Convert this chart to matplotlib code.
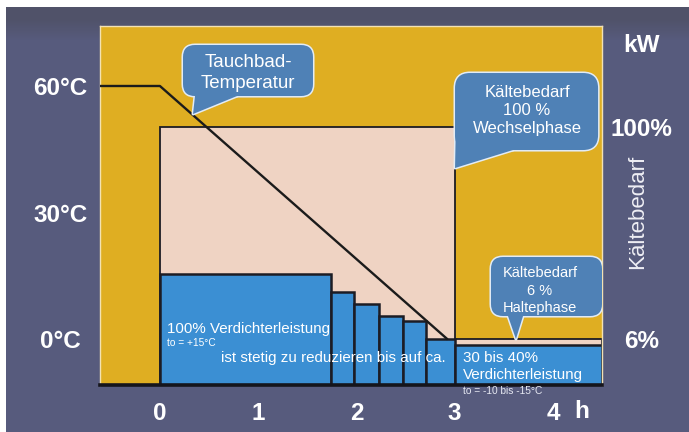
import matplotlib
matplotlib.use("Agg")
import matplotlib.pyplot as plt
import numpy as np
from matplotlib.patches import FancyBboxPatch, Polygon

plt.rcParams['font.family'] = ['Liberation Sans', 'DejaVu Sans']

# --- data -------------------------------------------------------------
hour_ticks = [0, 1, 2, 3, 4]
temp_ticks = [0, 30, 60]
temp_tick_labels = ['0°C', '30°C', '60°C']

# immersion bath temperature over time (h, °C)
bath_time = [-0.61, 0.0, 2.93]
bath_temp = [60, 60, 0]

# cooling demand phases (h) and their drawn levels
change_phase = (0.0, 3.0)     # Wechselphase
hold_phase = (3.0, 4.5)       # Haltephase
demand_levels = [100, 17.7]
demand_labels = ['100%', '6%']

# stepwise reduced compressor output during the change phase
step_edges = [0.0, 1.74, 1.98, 2.23, 2.47, 2.705, 3.0]
step_power = [43, 36, 31.5, 26.7, 24.8, 17.7]
hold_power = 15.5

# --- styling ----------------------------------------------------------
GOLD = '#dfae22'
PINK = '#efd3c3'
BLUE = '#3b8fd3'
BUBBLE = '#4f81b6'
BUBBLE_EDGE = '#e3ecf5'
BG = np.array([87, 91, 125]) / 255
BG_TOP = np.array([80, 82, 105]) / 255
DARK = '#1c1c24'
WHITE = '#ffffff'

W, H = 689, 432
fig = plt.figure(figsize=(W / 100, H / 100), dpi=100, facecolor='white')

# slide background with a darker band at the top
bg = fig.add_axes([6 / W, 0, (W - 6) / W, (H - 7) / H])
rows = np.arange(7, H)
t = np.clip((rows - 18) / 22.0, 0, 1)[:, None]
grad = BG_TOP * (1 - t) + BG * t
bg.imshow(grad[:, None, :], aspect='auto', extent=(6, W, H, 7))
bg.set_xlim(6, W)
bg.set_ylim(H, 7)
bg.axis('off')

# main panel
x_lim = (-0.61, 4.5)
y_lim = (0, 139.1)
ax = fig.add_axes([100 / W, 1 - 385 / H, 502 / W, 359 / H])
ax.set_xlim(*x_lim)
ax.set_ylim(*y_lim)
ax.set_facecolor(GOLD)
for side in ('left', 'top', 'right'):
    ax.spines[side].set_color('#f3e2b3')
    ax.spines[side].set_linewidth(1.0)
ax.spines['bottom'].set_visible(False)

sx = 502 / (x_lim[1] - x_lim[0])
sy = 359 / (y_lim[1] - y_lim[0])

# 100 % demand block during the change phase and 6 % during holding
ax.bar(change_phase[0], demand_levels[0], width=change_phase[1] - change_phase[0],
       align='edge', color=PINK, edgecolor=DARK, linewidth=1.3, zorder=1)
ax.bar(hold_phase[0], demand_levels[1], width=hold_phase[1] - hold_phase[0],
       align='edge', color=PINK, edgecolor=DARK, linewidth=1.3, zorder=1)

# compressor output
ax.bar(step_edges[:-1], step_power, width=np.diff(step_edges), align='edge',
       color=BLUE, edgecolor=DARK, linewidth=1.8, zorder=2)
ax.bar(hold_phase[0], hold_power, width=hold_phase[1] - hold_phase[0],
       align='edge', color=BLUE, edgecolor=DARK, linewidth=1.8, zorder=2)

ax.axhline(0, color='#15151c', linewidth=2.6, zorder=6, clip_on=False)

# temperature axis on the left
ax2 = ax.twinx()
ax2.set_ylim(-10.77, 74.2)
ax2.yaxis.tick_left()
ax2.set_yticks(temp_ticks, temp_tick_labels)
ax2.tick_params(axis='y', length=0, pad=28.5, labelcolor=WHITE, labelsize=17.5)
for lab in ax2.get_yticklabels():
    lab.set_ha('center')
    lab.set_fontweight('bold')
for s in ax2.spines.values():
    s.set_visible(False)
ax2.set_xticks([])

ax.plot(bath_time, bath_temp, color='#1b1b1b', linewidth=1.7,
        transform=ax2.transData, zorder=3, solid_capstyle='butt')

# hour axis
ax.set_xticks(hour_ticks, [str(h) for h in hour_ticks])
ax.tick_params(axis='x', length=0, pad=12.5, labelcolor=WHITE, labelsize=17.5)
for lab in ax.get_xticklabels():
    lab.set_fontweight('bold')
ax.text(4.29, -(412 - 385) / 359, 'h', transform=ax.get_xaxis_transform(),
        ha='center', va='center', color=WHITE, fontsize=17.5, fontweight='bold')

# demand axis on the right
ax.yaxis.tick_right()
ax.set_yticks(demand_levels, demand_labels)
ax.tick_params(axis='y', length=0, pad=28.5, labelcolor=WHITE, labelsize=17.5)
for lab in ax.get_yticklabels():
    lab.set_ha('center')
    lab.set_fontweight('bold')
ax.yaxis.set_label_position('right')
ax.set_ylabel('Kältebedarf', color='#eeeef4', fontsize=16, rotation=90)
ax.yaxis.set_label_coords(1.050, (385 - 212) / 359)
ax.text(1.078, (385 - 45) / 359, 'kW', transform=ax.transAxes, ha='center',
        va='center', color=WHITE, fontsize=17.5, fontweight='bold')


def bubble(x0, x1, y0, y1, root_l, tip, root_r, radius_px, text, size, spacing):
    """Speech bubble: rounded box with a wedge pointing at tip."""
    up = 8 / sy
    tail = [(root_l[0], root_l[1] + up), root_l, tip, root_r,
            (root_r[0], root_r[1] + up)]
    style = f"round,pad=0,rounding_size={radius_px / sx}"
    # outline pass, then fill pass to keep only the outer contour
    for lw, ec in ((2.2, BUBBLE_EDGE), (0, 'none')):
        z = 7 if lw else 8
        ax.add_patch(FancyBboxPatch((x0, y0), x1 - x0, y1 - y0, boxstyle=style,
                                    mutation_aspect=sx / sy, fc=BUBBLE, ec=ec,
                                    lw=lw, zorder=z, joinstyle='round'))
        ax.add_patch(Polygon(tail, closed=True, fc=BUBBLE, ec=ec, lw=lw,
                             zorder=z, joinstyle='round'))
    ax.text(text[1], text[2], text[0], ha='center', va='center', color=WHITE,
            fontsize=size, linespacing=spacing, zorder=9)


bubble(0.235, 1.558, 111.97, 131.73, (0.357, 111.97), (0.337, 105.0),
       (0.785, 111.97), 12, ('Tauchbad-\nTemperatur', 0.897, 121.0), 13.5, 1.28)
bubble(3.004, 4.46, 91.05, 120.88, (3.009, 93.76), (3.004, 84.08),
       (3.594, 91.05), 15, ('Kältebedarf\n100 %\nWechselphase', 3.737, 106.2),
       12, 1.25)
bubble(3.370, 4.50, 26.73, 49.59, (3.543, 26.73), (3.624, 17.82),
       (3.696, 26.73), 12, ('Kältebedarf\n6 %\nHaltephase', 3.869, 36.6),
       10.5, 1.28)

# annotations inside the compressor bars
ax.text(0.072, 21.7, '100% Verdichterleistung', color=WHITE, fontsize=10.9,
        ha='left', va='center', zorder=9)
ax.text(0.072, 16.3, 'to = +15°C', color=WHITE, fontsize=7.3,
        ha='left', va='center', zorder=9)
ax.text(0.622, 10.46, 'ist stetig zu reduzieren bis auf ca.', color=WHITE,
        fontsize=10.9, ha='left', va='center', zorder=9)
ax.text(3.085, 7.17, '30 bis 40%\nVerdichterleistung', color=WHITE,
        fontsize=10.9, ha='left', va='center', linespacing=1.3, zorder=9)
ax.text(3.085, -2.32, 'to = -10 bis -15°C', color='#e6e8f2', fontsize=7.3,
        ha='left', va='center', zorder=9, clip_on=False)

fig.savefig('out.png', dpi=100, facecolor=fig.get_facecolor())
